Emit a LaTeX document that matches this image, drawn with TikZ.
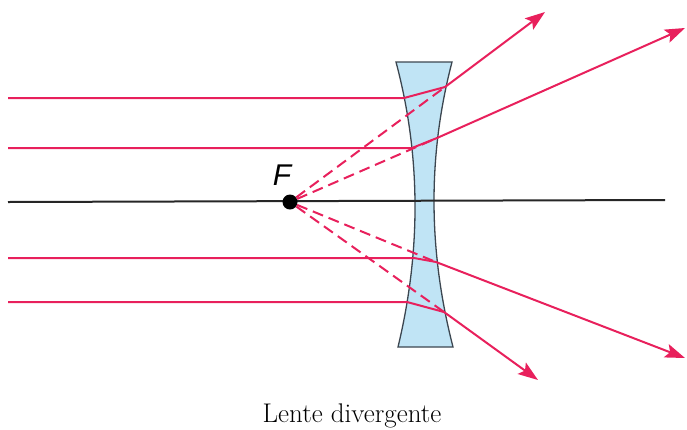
\documentclass[tikz,border=0pt]{standalone}
\usepackage{fontspec}
\newfontfamily\labelsans{Liberation Sans}
\usetikzlibrary{arrows.meta}
\definecolor{raycol}{RGB}{232,32,92}
\definecolor{glass}{RGB}{192,228,245}
\definecolor{rim}{RGB}{60,70,80}
\begin{document}
\begin{tikzpicture}[x=1pt,y=-1pt,
  ray/.style={draw=raycol, line width=2pt, line join=round},
  virtual/.style={draw=raycol, line width=2pt, dash pattern=on 11pt off 6pt},
  tip/.style={-{Stealth[length=20pt,width=14pt,inset=4pt]}},
  axisline/.style={draw=black!85, line width=2pt},
  focus/.style={circle, fill=black, inner sep=0pt, minimum size=15pt}]
\useasboundingbox (0,0) rectangle (687,429);

% concave (diverging) lens
\path[fill=glass, draw=rim, line width=1.3pt]
  (396,62) -- (452,62)
  .. controls (427.7,155) and (428,250) .. (453,347)
  -- (398,347)
  .. controls (421.3,250) and (420.7,155) .. (396,62) -- cycle;

% optical axis
\coordinate (axL) at (8,202);
\coordinate (axR) at (665,200);
\draw[axisline] (axL) -- (axR);

% focal point
\node[focus] (F) at (290,202) {};
\node[font=\labelsans\itshape\fontsize{30}{30}\selectfont] (Flabel) at (282,175) {F};

% ray points: start, entry face, exit face, arrow tip
\coordinate (s1) at (8,98);   \coordinate (a1) at (404,98);
\coordinate (b1) at (445,87); \coordinate (t1) at (545,12);
\coordinate (s2) at (8,148);  \coordinate (a2) at (412,148);
\coordinate (b2) at (437,138);\coordinate (t2) at (685,28);
\coordinate (s3) at (8,258);  \coordinate (a3) at (414,258);
\coordinate (b3) at (436,262);\coordinate (t3) at (685,358);
\coordinate (s4) at (8,302);  \coordinate (a4) at (407,302);
\coordinate (b4) at (444,312);\coordinate (t4) at (538,380);

% virtual rays traced back to F
\draw[virtual] (F) -- (b1);
\draw[virtual] (F) -- (b2);
\draw[virtual] (F) -- (b3);
\draw[virtual] (F) -- (b4);

% incident and refracted rays
\draw[ray, tip] (s1) -- (a1) -- (b1) -- (t1);
\draw[ray, tip] (s2) -- (a2) -- (b2) -- (t2);
\draw[ray, tip] (s3) -- (a3) -- (b3) -- (t3);
\draw[ray, tip] (s4) -- (a4) -- (b4) -- (t4);

% caption
\node[font=\fontsize{27}{30}\selectfont, anchor=base] (caption) at (352,422) {Lente divergente};
\end{tikzpicture}
\end{document}
